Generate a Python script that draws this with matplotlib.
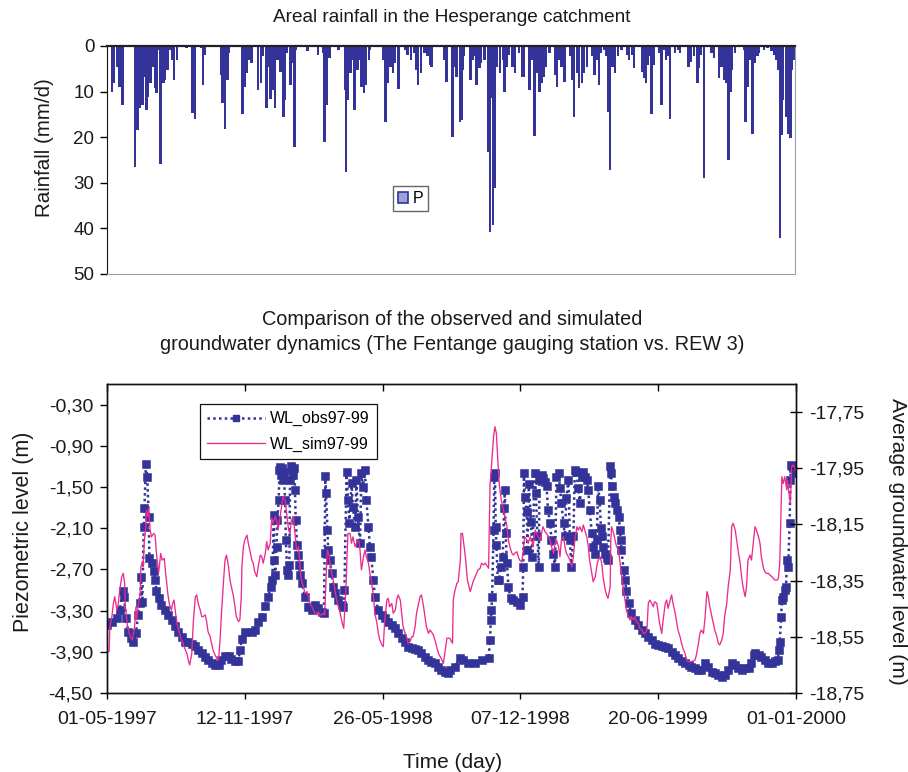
import matplotlib
matplotlib.use("Agg")
import matplotlib.pyplot as plt
import numpy as np
from matplotlib.patches import Patch
from matplotlib.lines import Line2D

plt.rcParams['font.family'] = ['Liberation Sans', 'DejaVu Sans']

START = np.datetime64('1997-05-01')
END = np.datetime64('2000-01-01')

# ---- data: (day offset from 01-05-1997, value) ----
rain = [(7,10.0),(10,8.2),(14,4.5),(16,3.1),(18,8.9),(22,12.9),(40,26.5),(43,18.4),(47,13.7),(50,12.9),
        (53,6.7),(56,14.0),(58,11.1),(62,8.2),(66,4.5),(68,9.3),(70,10.4),(73,0.9),(76,25.9),(80,8.2),
        (82,7.5),(86,5.3),(89,0.9),(92,3.1),(95,7.5),(99,3.1),(113,0.5),(121,14.6),(124,8.2),(125,15.9),
        (134,0.5),(136,8.6),(139,2.0),(162,6.4),(164,12.6),(167,18.3),(171,7.5),(173,1.6),(191,6.0),(192,14.9),
        (195,8.9),(198,6.0),(201,3.1),(205,3.8),(214,9.6),(218,8.2),(220,2.3),(226,13.7),(229,4.5),(232,11.7),
        (235,9.6),(238,13.7),(242,3.1),(246,5.6),(250,15.5),(252,11.8),(255,1.6),(260,8.6),(264,3.8),(266,22.1),
        (268,0.9),(284,1.2),(299,2.0),(306,1.6),(308,21.0),(312,12.9),(315,2.7),(328,0.9),(337,9.6),(339,27.6),
        (341,11.8),(345,6.0),(349,3.1),(351,14.0),(355,5.3),(358,3.1),(361,8.9),(364,10.4),(367,8.6),(371,3.1),
        (373,0.9),(391,3.1),(395,16.6),(398,8.2),(402,4.5),(405,6.0),(408,3.8),(413,9.5),(423,0.9),(426,2.0),
        (431,3.1),(435,1.6),(438,5.3),(441,8.6),(445,6.0),(450,1.6),(454,2.3),(458,4.2),(460,4.5),(478,3.1),
        (481,8.0),(490,19.9),(492,4.5),(495,6.7),(500,16.6),(502,16.2),(504,5.3),(506,2.3),(515,7.5),(518,3.1),
        (521,2.3),(524,8.6),(528,4.9),(530,3.8),(535,3.1),(540,23.2),(543,40.7),(545,11.5),(547,39.3),(550,31.2),
        (553,4.5),(557,6.0),(561,3.1),(563,10.0),(567,4.5),(570,2.0),(575,4.5),(578,6.0),(584,1.6),(588,6.7),
        (591,6.7),(599,9.6),(602,3.1),(606,19.7),(609,6.0),(613,10.0),(616,8.2),(619,6.7),(622,4.5),(627,1.6),
        (635,6.4),(638,8.9),(641,3.1),(644,4.5),(648,8.0),(657,2.3),(660,7.5),(662,15.5),(666,6.0),(669,9.3),
        (673,8.2),(676,6.0),(680,4.5),(688,2.3),(691,6.4),(694,3.1),(697,8.6),(699,1.6),(705,0.9),(708,2.3),
        (710,14.4),(713,27.2),(716,4.5),(720,6.0),(724,2.3),(729,0.9),(738,2.0),(740,3.1),(744,2.0),(747,4.9),
        (758,5.6),(761,7.1),(764,8.2),(766,4.2),(768,2.3),(772,14.9),(775,4.2),(782,1.6),(786,12.9),(790,0.9),
        (792,3.1),(794,2.3),(798,15.9),(805,1.6),(809,0.9),(812,1.6),(824,4.5),(827,3.4),(832,2.3),(837,8.2),
        (839,4.9),(841,2.0),(846,29.0),(857,1.6),(860,2.7),(867,7.1),(871,4.5),(875,7.5),(877,8.2),(881,25.1),
        (884,10.0),(886,5.3),(890,1.6),(903,0.9),(905,16.6),(908,8.9),(911,3.1),(915,19.2),(918,3.8),(922,2.3),
        (924,1.6),(931,0.9),(936,0.5),(942,1.2),(945,2.0),(948,3.1),(951,5.3),(954,42.0),(956,19.5),(958,11.8),
        (962,15.5),(964,8.2),(966,19.2),(969,20.2),(971,5.3),(973,3.1)]

wl_obs = [(0,-3.51),(7,-3.46),(14,-3.41),(18,-3.29),(22,-3.02),(24,-3.10),(27,-3.41),(30,-3.61),(34,-3.70),(37,-3.75),
          (41,-3.63),(44,-3.36),(47,-3.19),(48,-2.81),(50,-3.17),(52,-2.08),(53,-1.81),(55,-1.16),(57,-1.35),(59,-1.93),
          (60,-2.54),(63,-2.61),(66,-2.73),(68,-2.85),(70,-3.02),(73,-3.12),(77,-3.22),(82,-3.29),(87,-3.36),(92,-3.44),
          (96,-3.53),(101,-3.61),(106,-3.68),(110,-3.75),(115,-3.75),(120,-3.78),(125,-3.82),(129,-3.87),(134,-3.92),(139,-3.97),
          (143,-4.02),(148,-4.06),(153,-4.09),(158,-4.09),(162,-4.02),(167,-3.96),(172,-3.96),(176,-4.01),(181,-4.04),(186,-4.04),
          (188,-3.87),(191,-3.72),(195,-3.61),(205,-3.61),(209,-3.58),(214,-3.46),(219,-3.39),(224,-3.24),(228,-3.10),(232,-2.95),
          (234,-2.85),(236,-1.91),(237,-2.56),(238,-2.78),(240,-2.37),(241,-1.98),(243,-1.69),(244,-1.25),(245,-1.21),(246,-1.33),
          (248,-1.22),(249,-1.40),(250,-1.28),(252,-1.69),(253,-2.27),(255,-2.71),(256,-2.78),(258,-2.64),(259,-1.40),(260,-1.19),
          (262,-1.25),(263,-1.33),(265,-1.22),(266,-1.54),(267,-1.98),(269,-2.34),(270,-2.49),(272,-2.64),(273,-2.78),(276,-2.90),
          (280,-3.10),(285,-3.25),(290,-3.29),(295,-3.22),(299,-3.26),(304,-3.32),(307,-3.33),(308,-2.46),(309,-1.34),(310,-1.59),
          (312,-2.13),(313,-2.42),(315,-2.56),(318,-2.75),(320,-2.96),(322,-3.04),(327,-3.15),(332,-3.22),(334,-3.25),(336,-3.00),
          (339,-1.28),(341,-1.69),(343,-2.02),(346,-1.44),(348,-1.79),(351,-2.08),(353,-1.40),(355,-1.94),(358,-2.32),(360,-1.30),
          (362,-1.50),(365,-1.25),(367,-1.69),(370,-2.08),(372,-2.37),(374,-2.52),(377,-2.85),(379,-3.10),(384,-3.29),(389,-3.36),
          (393,-3.41),(398,-3.47),(403,-3.51),(408,-3.55),(412,-3.63),(417,-3.70),(422,-3.76),(426,-3.83),(431,-3.84),(436,-3.86),
          (440,-3.87),(445,-3.92),(450,-3.98),(454,-4.02),(459,-4.05),(464,-4.06),(469,-4.12),(473,-4.16),(478,-4.19),(483,-4.21),
          (485,-4.17),(492,-4.12),(500,-3.99),(504,-4.02),(511,-4.07),(521,-4.07),(530,-4.02),(540,-3.99),(542,-3.73),(543,-3.44),
          (544,-3.29),(545,-3.10),(547,-2.13),(548,-1.35),(549,-1.30),(550,-2.08),(551,-2.34),(553,-2.85),(555,-2.85),(557,-2.66),
          (560,-2.52),(562,-1.81),(563,-1.54),(564,-2.17),(566,-2.61),(568,-2.95),(571,-3.12),(575,-3.15),(580,-3.17),(584,-3.22),
          (588,-3.10),(589,-2.66),(590,-1.30),(591,-1.64),(594,-1.86),(595,-2.42),(597,-1.45),(600,-2.01),(602,-2.52),(605,-1.30),
          (607,-1.59),(609,-2.22),(611,-2.66),(612,-1.40),(615,-1.33),(617,-1.37),(620,-1.42),(622,-1.49),(624,-1.83),(627,-2.03),
          (629,-2.27),(631,-2.47),(634,-2.66),(636,-1.35),(639,-1.30),(641,-1.52),(643,-1.74),(646,-2.03),(648,-2.22),(650,-1.66),
          (653,-1.40),(655,-2.27),(657,-2.66),(660,-2.22),(662,-1.25),(664,-1.28),(667,-1.52),(669,-1.74),(672,-1.35),(674,-1.28),
          (676,-1.35),(679,-1.40),(681,-1.54),(683,-1.83),(686,-2.17),(688,-2.37),(691,-2.47),(693,-2.27),(695,-1.49),(697,-1.69),
          (699,-2.10),(700,-2.22),(702,-2.37),(705,-2.47),(707,-2.54),(709,-2.56),(712,-1.20),(713,-1.30),(715,-1.49),(717,-1.64),
          (719,-1.74),(721,-1.83),(724,-1.93),(726,-2.13),(727,-2.27),(728,-2.42),(731,-2.71),(733,-2.85),(735,-3.02),(738,-3.19),
          (742,-3.34),(747,-3.44),(752,-3.51),(757,-3.58),(761,-3.63),(766,-3.68),(771,-3.73),(775,-3.78),(780,-3.80),(785,-3.81),
          (790,-3.83),(794,-3.85),(799,-3.90),(804,-3.95),(808,-3.99),(813,-4.04),(818,-4.07),(823,-4.09),(827,-4.12),(832,-4.14),
          (837,-4.17),(841,-4.17),(846,-4.07),(851,-4.12),(856,-4.19),(860,-4.21),(865,-4.24),(870,-4.26),(875,-4.24),(879,-4.17),
          (884,-4.07),(889,-4.09),(893,-4.14),(898,-4.17),(903,-4.14),(908,-4.14),(912,-4.07),(915,-3.95),(917,-3.92),(922,-3.95),
          (926,-3.97),(931,-4.02),(936,-4.07),(941,-4.06),(945,-4.04),(949,-4.02),(951,-3.87),(952,-3.75),(954,-3.39),(955,-3.15),
          (957,-3.10),(959,-3.00),(961,-2.95),(962,-2.56),(964,-2.66),(966,-2.03),(967,-1.40),(968,-1.18),(969,-1.20),(971,-1.23),
          (974,-1.30)]

wl_sim = [(0,-18.600),(3,-18.603),(4,-18.514),(7,-18.478),(9,-18.431),(11,-18.407),(14,-18.455),(16,-18.431),(18,-18.383),(21,-18.336),
          (23,-18.324),(25,-18.360),(26,-18.443),(29,-18.514),(33,-18.550),(36,-18.561),(39,-18.514),(41,-18.443),(42,-18.490),(44,-18.443),
          (47,-18.395),(48,-18.300),(50,-18.283),(51,-18.300),(53,-18.205),(55,-18.158),(56,-18.099),(58,-18.122),(59,-18.093),(60,-18.134),
          (61,-18.170),(63,-18.194),(66,-18.182),(68,-18.188),(70,-18.253),(73,-18.324),(75,-18.277),(76,-18.253),(78,-18.277),(81,-18.271),
          (83,-18.324),(86,-18.395),(88,-18.431),(91,-18.455),(93,-18.431),(95,-18.419),(97,-18.466),(100,-18.514),(102,-18.532),(105,-18.561),
          (107,-18.567),(109,-18.585),(113,-18.609),(115,-18.633),(117,-18.650),(120,-18.609),(122,-18.502),(125,-18.407),(127,-18.401),(129,-18.431),
          (132,-18.455),(134,-18.478),(136,-18.478),(139,-18.472),(141,-18.496),(143,-18.532),(146,-18.550),(148,-18.573),(150,-18.597),(153,-18.615),
          (157,-18.633),(158,-18.627),(160,-18.561),(162,-18.466),(165,-18.348),(167,-18.277),(169,-18.259),(172,-18.300),(174,-18.348),(176,-18.372),
          (179,-18.407),(181,-18.443),(183,-18.478),(186,-18.496),(188,-18.490),(190,-18.407),(191,-18.294),(193,-18.229),(195,-18.205),(198,-18.188),
          (200,-18.217),(202,-18.241),(205,-18.277),(207,-18.288),(209,-18.318),(212,-18.336),(214,-18.300),(217,-18.259),(219,-18.265),(221,-18.288),
          (224,-18.253),(226,-18.211),(228,-18.241),(231,-18.217),(233,-18.128),(235,-18.146),(238,-18.122),(240,-18.134),(242,-18.170),(245,-18.122),
          (247,-18.087),(249,-18.051),(252,-18.063),(254,-18.105),(257,-18.170),(259,-18.182),(261,-18.134),(264,-18.122),(265,-18.158),(267,-18.205),
          (268,-18.241),(271,-18.229),(273,-18.300),(275,-18.348),(278,-18.372),(280,-18.395),(283,-18.389),(285,-18.407),(287,-18.431),(290,-18.443),
          (292,-18.455),(294,-18.466),(297,-18.472),(299,-18.461),(301,-18.472),(304,-18.472),(306,-18.466),(308,-18.472),(311,-18.277),(312,-18.241),
          (314,-18.259),(316,-18.300),(319,-18.336),(322,-18.372),(324,-18.407),(326,-18.431),(329,-18.455),(331,-18.478),(333,-18.502),(335,-18.520),
          (338,-18.383),(340,-18.241),(341,-18.182),(344,-18.182),(346,-18.217),(348,-18.194),(351,-18.229),(353,-18.217),(356,-18.205),(358,-18.241),
          (360,-18.312),(363,-18.265),(365,-18.241),(367,-18.265),(370,-18.288),(372,-18.324),(374,-18.348),(377,-18.407),(379,-18.466),(382,-18.502),
          (384,-18.538),(386,-18.561),(389,-18.579),(391,-18.585),(393,-18.490),(396,-18.419),(398,-18.413),(400,-18.443),(403,-18.431),(405,-18.466),
          (408,-18.455),(410,-18.419),(412,-18.401),(415,-18.419),(417,-18.466),(419,-18.514),(422,-18.538),(424,-18.550),(426,-18.573),(429,-18.567),
          (431,-18.550),(433,-18.550),(436,-18.514),(438,-18.466),(441,-18.431),(443,-18.407),(445,-18.401),(448,-18.443),(450,-18.478),(452,-18.514),
          (455,-18.538),(457,-18.526),(459,-18.532),(462,-18.544),(464,-18.561),(469,-18.609),(474,-18.633),(476,-18.645),(478,-18.609),(481,-18.555),
          (483,-18.555),(485,-18.555),(489,-18.573),(490,-18.419),(492,-18.389),(495,-18.360),(497,-18.354),(500,-18.277),(501,-18.182),(503,-18.182),
          (506,-18.241),(508,-18.288),(510,-18.348),(514,-18.389),(516,-18.372),(518,-18.354),(521,-18.336),(523,-18.324),(525,-18.312),(528,-18.306),
          (530,-18.288),(533,-18.294),(535,-18.288),(537,-18.294),(540,-18.306),(542,-18.010),(544,-17.944),(547,-17.838),(549,-17.802),(551,-17.826),
          (553,-17.921),(555,-18.004),(556,-18.027),(558,-18.063),(561,-18.099),(563,-18.122),(566,-18.158),(568,-18.205),(570,-18.229),(573,-18.253),
          (575,-18.259),(577,-18.253),(580,-18.247),(582,-18.265),(584,-18.277),(587,-18.283),(589,-18.241),(591,-18.194),(594,-18.205),(596,-18.217),
          (599,-18.194),(601,-18.205),(603,-18.229),(606,-18.170),(608,-18.182),(610,-18.194),(613,-18.205),(615,-18.182),(617,-18.158),(620,-18.176),
          (622,-18.182),(625,-18.194),(627,-18.205),(629,-18.229),(632,-18.253),(634,-18.217),(636,-18.205),(639,-18.229),(641,-18.265),(643,-18.205),
          (646,-18.194),(648,-18.229),(650,-18.253),(653,-18.265),(655,-18.277),(658,-18.300),(660,-18.265),(662,-18.205),(665,-18.158),(667,-18.170),
          (669,-18.158),(672,-18.176),(674,-18.152),(676,-18.170),(679,-18.194),(681,-18.229),(683,-18.277),(686,-18.324),(688,-18.354),(691,-18.336),
          (693,-18.300),(695,-18.277),(698,-18.265),(700,-18.288),(702,-18.336),(705,-18.383),(707,-18.401),(709,-18.413),(712,-18.372),(713,-18.205),
          (714,-18.158),(717,-18.182),(719,-18.205),(721,-18.229),(724,-18.241),(726,-18.288),(728,-18.324),(731,-18.383),(733,-18.419),(735,-18.455),
          (738,-18.478),(740,-18.490),(742,-18.478),(745,-18.490),(747,-18.478),(749,-18.496),(752,-18.502),(754,-18.520),(757,-18.526),(759,-18.538),
          (761,-18.538),(764,-18.526),(766,-18.431),(768,-18.419),(771,-18.431),(773,-18.443),(775,-18.425),(778,-18.431),(780,-18.466),(782,-18.502),
          (785,-18.538),(787,-18.490),(790,-18.431),(792,-18.419),(794,-18.449),(797,-18.419),(799,-18.401),(801,-18.431),(804,-18.466),(806,-18.496),
          (808,-18.526),(811,-18.550),(813,-18.573),(815,-18.591),(818,-18.609),(820,-18.633),(823,-18.639),(827,-18.639),(832,-18.633),(834,-18.615),
          (837,-18.573),(839,-18.538),(841,-18.526),(844,-18.538),(846,-18.490),(849,-18.389),(851,-18.407),(853,-18.443),(856,-18.478),(858,-18.502),
          (860,-18.526),(863,-18.550),(865,-18.573),(867,-18.579),(870,-18.561),(872,-18.538),(874,-18.478),(877,-18.431),(879,-18.372),(882,-18.312),
          (884,-18.158),(886,-18.146),(889,-18.170),(891,-18.205),(893,-18.241),(896,-18.288),(898,-18.336),(900,-18.372),(903,-18.407),(905,-18.372),
          (907,-18.277),(910,-18.259),(912,-18.277),(915,-18.205),(917,-18.158),(919,-18.170),(922,-18.194),(924,-18.217),(926,-18.265),(929,-18.306),
          (931,-18.318),(933,-18.324),(936,-18.324),(938,-18.330),(941,-18.336),(943,-18.342),(945,-18.348),(948,-18.348),(950,-18.342),(952,-18.288),
          (955,-17.980),(957,-18.004),(959,-17.980),(962,-18.027),(963,-17.992),(965,-18.039),(967,-18.075),(969,-17.944),(971,-17.938),(974,-17.956)]

date_ticks = ['1997-05-01', '1997-11-12', '1998-05-26', '1998-12-07', '1999-06-20', '2000-01-01']
rain_ticks = [0, 10, 20, 30, 40, 50]
left_ticks = [-0.30, -0.90, -1.50, -2.10, -2.70, -3.30, -3.90, -4.50]
right_ticks = [-17.75, -17.95, -18.15, -18.35, -18.55, -18.75]

def to_dates(days):
    return START + np.array(days, dtype=int).astype('timedelta64[D]')

def comma(v):
    return ('%.2f' % v).replace('.', ',')

rain_day, rain_mm = zip(*rain)
obs_day, obs_val = zip(*wl_obs)
sim_day, sim_val = zip(*wl_sim)

NAVY = '#333399'
PINK = '#EA2C8E'
TXT = '#1a1a1a'
W, H = 908, 772

fig = plt.figure(figsize=(W / 100, H / 100), dpi=100)
ax1 = fig.add_axes([107 / W, 1 - 274 / H, 688 / W, 228 / H])
ax = fig.add_axes([107 / W, 1 - 693 / H, 689 / W, 309 / H])
ax2 = ax.twinx()

# ---------- top: rainfall ----------
ax1.bar(to_dates(rain_day), rain_mm, width=3.6, color=NAVY, linewidth=0)
ax1.set_xlim(START, END)
ax1.set_ylim(50, 0)
ax1.set_yticks(rain_ticks)
ax1.set_yticklabels([str(t) for t in rain_ticks])
ax1.set_xticks([])
ax1.tick_params(axis='y', direction='out', length=5, width=1, pad=4, labelsize=13.5, labelcolor=TXT)
ax1.spines['left'].set_color('#111111')
ax1.spines['top'].set_color('#222222')
ax1.spines['top'].set_linewidth(1.6)
ax1.spines['bottom'].set_color('#9aa3ad')
ax1.spines['right'].set_color('#9aa3ad')
ax1.legend(handles=[Patch(facecolor='#9ca2d8', edgecolor=NAVY, linewidth=1.2)], labels=['P'],
           loc='upper left', bbox_to_anchor=((393 - 107) / 688, (274 - 186) / 228),
           fancybox=False, edgecolor='#666666', fontsize=11.5, handlelength=0.65, handleheight=0.65,
           handletextpad=0.3, borderpad=0.3, borderaxespad=0, framealpha=1)

# ---------- bottom: water levels ----------
ax.plot(to_dates(obs_day), obs_val, color=NAVY, linestyle=(0, (1, 1.3)), linewidth=1.8,
        marker='s', markersize=6.3, markerfacecolor=NAVY, markeredgecolor=NAVY, markeredgewidth=0.4)
ax2.plot(to_dates(sim_day), sim_val, color=PINK, linewidth=0.95)

ax.set_xlim(START, END)
ax.set_ylim(-4.5, 0)
ax2.set_ylim(-18.75, -17.65)
ax.set_yticks(left_ticks)
ax.set_yticklabels([comma(t) for t in left_ticks])
ax2.set_yticks(right_ticks)
ax2.set_yticklabels([comma(t) for t in right_ticks])
tick_dates = np.array(date_ticks, dtype='datetime64[D]')
ax.set_xticks(tick_dates)
ax.set_xticklabels([str(d)[8:10] + '-' + str(d)[5:7] + '-' + str(d)[0:4] for d in tick_dates])
ax.tick_params(axis='x', direction='out', length=4, width=1, pad=9, labelsize=14, labelcolor=TXT)
ax.tick_params(axis='y', direction='out', length=5, width=1, pad=5, labelsize=14, labelcolor=TXT)
ax2.tick_params(axis='y', direction='inout', length=9, width=1, pad=5, labelsize=14, labelcolor=TXT)
top = ax.secondary_xaxis('top')
top.set_xticks(tick_dates)
top.tick_params(direction='in', length=5, width=1, labeltop=False)
for a in (ax, ax2):
    for s in a.spines.values():
        s.set_color('#111111')
        s.set_linewidth(1.0)
top.spines['top'].set_visible(False)

handles = [Line2D([], [], color=NAVY, linestyle=(0, (1, 1.3)), linewidth=1.8, marker='s', markersize=5.0,
                  markevery=[1], markerfacecolor=NAVY, markeredgecolor=NAVY),
           Line2D([], [], color=PINK, linewidth=0.95)]
leg = ax2.legend(handles=handles, labels=['WL_obs97-99', 'WL_sim97-99'], loc='upper left',
                 bbox_to_anchor=((200 - 107) / 689, (693 - 404) / 309), fancybox=False, edgecolor='#111111',
                 fontsize=11.5, handlelength=3.6, handletextpad=0.35, labelspacing=0.65, borderpad=0.45,
                 borderaxespad=0, framealpha=1)
leg.get_frame().set_linewidth(0.9)

# ---------- texts ----------
fig.text(452 / W, 1 - 18 / H, 'Areal rainfall in the Hesperange catchment', ha='center', va='center',
         fontsize=13.7, color=TXT)
fig.text(452 / W, 1 - 320 / H, 'Comparison of the observed and simulated', ha='center', va='center',
         fontsize=14.3, color=TXT)
fig.text(452 / W, 1 - 345 / H, 'groundwater dynamics (The Fentange gauging station vs. REW 3)', ha='center',
         va='center', fontsize=14.3, color=TXT)
fig.text(44 / W, 1 - 148 / H, 'Rainfall (mm/d)', rotation=90, ha='center', va='center', fontsize=14.8, color=TXT)
fig.text(24 / W, 1 - 532 / H, 'Piezometric level (m)', rotation=90, ha='center', va='center', fontsize=15.5,
         color=TXT)
fig.text(897 / W, 1 - 541 / H, 'Average groundwater level (m)', rotation=270, ha='center', va='center',
         fontsize=15.1, color=TXT)
fig.text(453 / W, 1 - 762 / H, 'Time (day)', ha='center', va='center', fontsize=15, color=TXT)

fig.savefig('out.png', dpi=100)
